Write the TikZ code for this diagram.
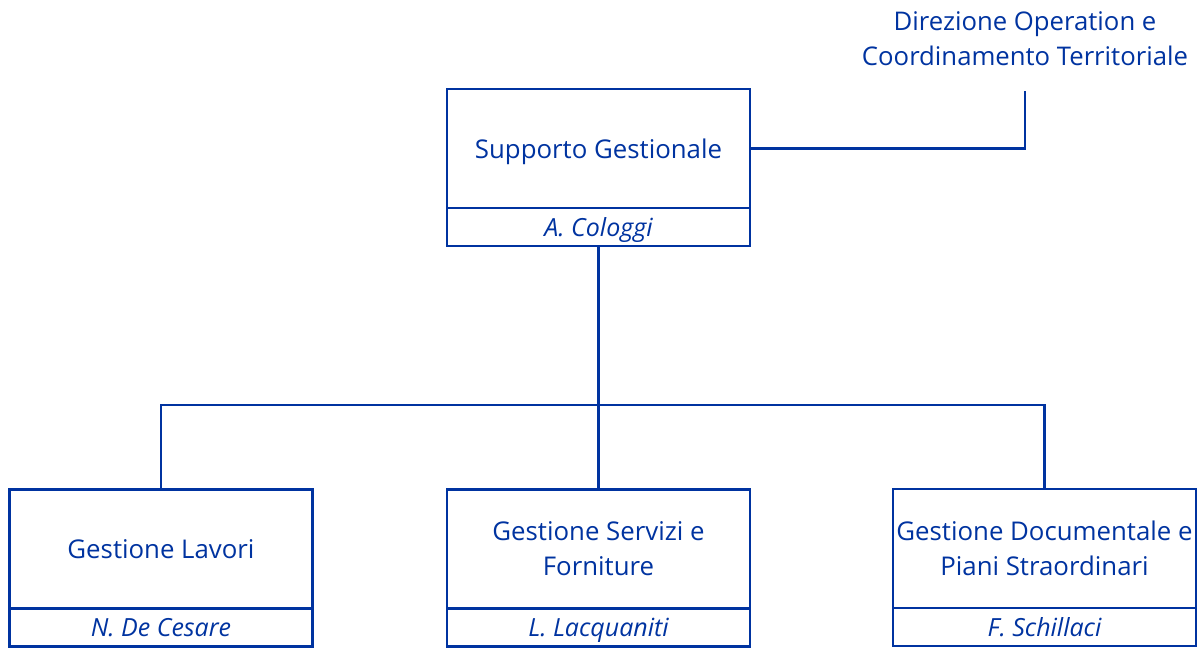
\documentclass[tikz,border=0pt]{standalone}
\usepackage{fontspec}
\setmainfont{Open Sans}
\usetikzlibrary{positioning}

\begin{document}
\begin{tikzpicture}[x=1pt, y=-1pt]
    \definecolor{borderColour}{HTML}{0033A0}
    \definecolor{textColour}{HTML}{0033A0}

    \def\boxWidth{303pt}

    \tikzset{
        unitBox/.style={draw=borderColour, line width=2.5pt, minimum width=\boxWidth, minimum height=119pt,
            align=center, text=textColour, inner sep=0pt, outer sep=0pt, text depth=0pt,
            font=\fontsize{25.8}{35}\selectfont},
        nameBox/.style={draw=borderColour, line width=2.5pt, minimum width=\boxWidth, minimum height=38pt,
            text=textColour, inner sep=0pt, outer sep=0pt, text depth=0pt,
            font=\fontsize{25}{28}\selectfont\itshape},
        link/.style={draw=borderColour, line width=2.5pt}
    }

    % Fix the page size
    \useasboundingbox (0,0) rectangle (1201,648);

    % Draw head unit
    \node[unitBox] (sg) at (598.5,148.5) {Supporto Gestionale};
    \node[nameBox, below=0pt of sg] (sgName) {A. Cologgi};

    % Draw parent direction
    \node[align=center, text=textColour, font=\fontsize{25.7}{35}\selectfont] (dir) at (1025,39)
        {Direzione Operation e\\Coordinamento Territoriale};
    \coordinate (dirEnd) at (1025,91);

    % Draw sub units
    \node[unitBox] (gl) at (161,549) {Gestione Lavori};
    \node[nameBox, below=0pt of gl] (glName) {N. De Cesare};
    \node[unitBox] (gs) at (598.5,549) {Gestione Servizi e\\Forniture};
    \node[nameBox, below=0pt of gs] (gsName) {L. Lacquaniti};
    \node[unitBox] (gd) at (1044.5,548.5) {Gestione Documentale e\\Piani Straordinari};
    \node[nameBox, below=0pt of gd] (gdName) {F. Schillaci};

    % Draw connectors
    \coordinate (bus) at (598.5,405);
    \draw[link] (sg.east) -| (dirEnd);
    \draw[link] (sgName.south) -- (bus);
    \draw[link] (gl.north) |- (bus) -| (gd.north);
    \draw[link] (bus) -- (gs.north);

\end{tikzpicture}
\end{document}
